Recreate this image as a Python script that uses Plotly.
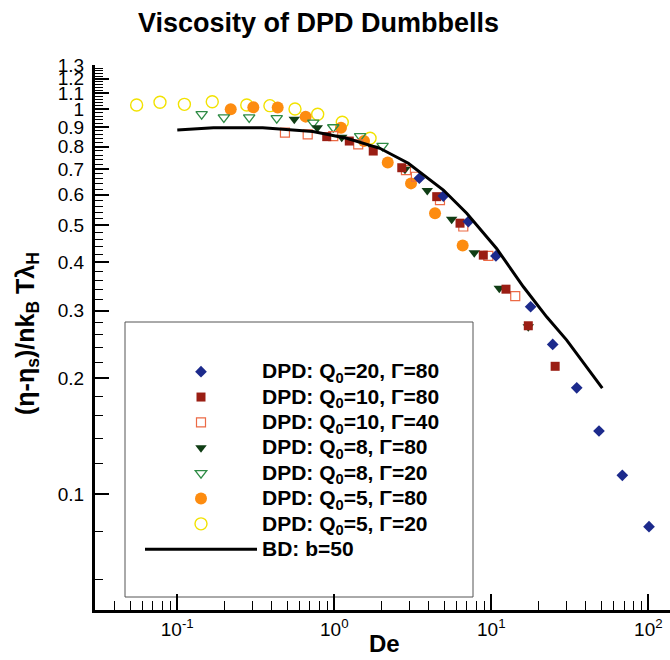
import plotly.graph_objects as go

# ---------------- data ----------------
q20_g80_x = [3.48, 4.95, 7.14, 10.7, 17.8, 24.6, 35.0, 48.5, 68.3, 101]
q20_g80_y = [0.662, 0.595, 0.511, 0.416, 0.307, 0.245, 0.189, 0.146, 0.112, 0.0824]

q10_g80_x = [0.895, 1.246, 1.77, 2.69, 4.49, 6.32, 8.89, 12.4, 17.2, 25.5]
q10_g80_y = [0.849, 0.827, 0.779, 0.705, 0.593, 0.506, 0.418, 0.341, 0.274, 0.215]

q10_g40_x = [0.485, 0.677, 0.985, 1.42, 2.86, 3.31, 4.71, 6.63, 9.57, 14.2]
q10_g40_y = [0.870, 0.861, 0.852, 0.811, 0.695, 0.668, 0.581, 0.496, 0.416, 0.327]

q8_g80_x = [0.556, 0.779, 1.115, 1.77, 2.82, 3.91, 5.59, 7.79, 11.24, 17.2]
q8_g80_y = [0.942, 0.896, 0.846, 0.792, 0.699, 0.615, 0.518, 0.424, 0.343, 0.2725]

q8_g20_x = [0.143, 0.198, 0.287, 0.430, 0.735, 0.985, 1.46, 2.03]
q8_g20_y = [0.971, 0.953, 0.953, 0.948, 0.923, 0.898, 0.852, 0.803]

q5_g80_x = [0.219, 0.305, 0.436, 0.657, 1.103, 1.546, 2.19, 3.08, 4.38, 6.57]
q5_g80_y = [1.0, 1.012, 1.010, 0.957, 0.896, 0.827, 0.727, 0.642, 0.537, 0.443]

q5_g20_x = [0.0551, 0.0776, 0.111, 0.167, 0.277, 0.389, 0.562, 0.784, 1.124, 1.69]
q5_g20_y = [1.026, 1.043, 1.030, 1.046, 1.026, 1.022, 1.002, 0.971, 0.925, 0.841]

bd_x = [0.1, 0.17, 0.35, 0.73, 1.2, 1.95, 2.96, 4.95, 6.97, 10.8, 16.0, 22.5, 30.2, 50.9]
bd_y = [0.884, 0.896, 0.896, 0.875, 0.841, 0.792, 0.724, 0.617, 0.537, 0.435, 0.346, 0.289, 0.2515, 0.1886]

x_tickvals = [0.1, 1, 10, 100]
x_ticktext = ["10<sup>-1</sup>", "10<sup>0</sup>", "10<sup>1</sup>", "10<sup>2</sup>"]
x_minor = [m * 10.0 ** e for e in (-2, -1, 0, 1) for m in range(2, 10)]

y_tickvals = [0.1, 0.2, 0.3, 0.4, 0.5, 0.6, 0.7, 0.8, 0.9, 1.0, 1.1, 1.2, 1.3]
y_ticktext = ["0.1", "0.2", "0.3", "0.4", "0.5", "0.6", "0.7", "0.8", "0.9", "1", "1.1", "1.2", "1.3"]
y_minor = [round(0.06 + 0.02 * i, 2) for i in range(62)]
y_minor = [v for v in y_minor if v <= 1.3 and round(v * 10, 6) % 1 != 0]

legend_names = [
    "DPD: Q<sub>0</sub>=20, Γ=80",
    "DPD: Q<sub>0</sub>=10, Γ=80",
    "DPD: Q<sub>0</sub>=10, Γ=40",
    "DPD: Q<sub>0</sub>=8, Γ=80",
    "DPD: Q<sub>0</sub>=8, Γ=20",
    "DPD: Q<sub>0</sub>=5, Γ=80",
    "DPD: Q<sub>0</sub>=5, Γ=20",
    "BD: b=50",
]

FONT = "Liberation Sans, Arial, Helvetica, sans-serif"


def lg(s):
    return '<span style="font-size:21px"><b>' + s + '</b></span>'


fig = go.Figure()

series = [
    (q20_g80_x, q20_g80_y, dict(symbol="diamond", size=9, color="#1c2a8c", line=dict(width=0))),
    (q10_g80_x, q10_g80_y, dict(symbol="square", size=9, color="#9a1e14", line=dict(width=0))),
    (q10_g40_x, q10_g40_y, dict(symbol="square-open", size=9, color="#ec6a45", line=dict(width=1.2))),
    (q8_g80_x, q8_g80_y, dict(symbol="triangle-down", size=10, color="#0f3d14", line=dict(width=0))),
    (q8_g20_x, q8_g20_y, dict(symbol="triangle-down-open", size=10, color="#2e8b45", line=dict(width=1.3))),
    (q5_g80_x, q5_g80_y, dict(symbol="circle", size=12, color="#fd8c10", line=dict(width=0))),
    (q5_g20_x, q5_g20_y, dict(symbol="circle-open", size=12, color="#f2e200", line=dict(width=1.4))),
]

draw_order = [6, 5, 4, 2, 3, 1, 0]
for idx in draw_order:
    xs, ys, mk = series[idx]
    fig.add_trace(go.Scatter(x=xs, y=ys, mode="markers", name=lg(legend_names[idx]),
                             marker=mk, legendrank=idx + 1))

fig.add_trace(go.Scatter(x=bd_x, y=bd_y, mode="lines", name=lg(legend_names[7]),
                         line=dict(color="black", width=3), legendrank=8))

L, R, T, B = 95, 0, 65, 50
W, H = 670, 660
pw, ph = W - L - R, H - T - B


def px(xp):
    return (xp - L) / pw


def py(yp):
    return (H - B - yp) / ph


fig.update_layout(
    width=W, height=H,
    margin=dict(l=L, r=R, t=T, b=B, autoexpand=False),
    paper_bgcolor="white", plot_bgcolor="white",
    font=dict(family=FONT, color="black"),
    showlegend=True,
    legend=dict(x=px(140), y=py(354), xanchor="left", yanchor="top",
                bgcolor="rgba(0,0,0,0)", borderwidth=0,
                font=dict(family=FONT, size=17.2, color="black"),
                itemwidth=112, tracegroupgap=0),
    xaxis=dict(type="log", range=[-1.524, 2.138], showgrid=False, zeroline=False,
               showline=True, linecolor="black", linewidth=3,
               tickmode="array", tickvals=x_tickvals, ticktext=x_ticktext,
               ticks="inside", ticklen=16, tickwidth=2, tickcolor="black",
               tickfont=dict(family=FONT, size=19, color="black"),
               minor=dict(tickmode="array", tickvals=x_minor, ticks="inside",
                          ticklen=9, tickwidth=1, tickcolor="black", showgrid=False)),
    yaxis=dict(type="log", range=[-1.3005, 0.115], showgrid=False, zeroline=False,
               showline=True, linecolor="black", linewidth=3,
               tickmode="array", tickvals=y_tickvals, ticktext=y_ticktext,
               ticks="inside", ticklen=14, tickwidth=2, tickcolor="black",
               tickfont=dict(family=FONT, size=19, color="black"),
               ticklabelstandoff=4,
               minor=dict(tickmode="array", tickvals=y_minor, ticks="inside",
                          ticklen=8, tickwidth=1, tickcolor="black", showgrid=False)),
    shapes=[dict(type="rect", xref="paper", yref="paper",
                 x0=px(125), x1=px(473), y0=py(597), y1=py(322),
                 line=dict(color="#555555", width=1), fillcolor="rgba(0,0,0,0)",
                 layer="below")],
    annotations=[
        dict(text="<b>Viscosity of DPD Dumbbells</b>", xref="paper", yref="paper",
             x=px(318), y=py(23), xanchor="center", yanchor="middle", showarrow=False,
             font=dict(family=FONT, size=27, color="black")),
        dict(text="<b>De</b>", xref="paper", yref="paper",
             x=px(384), y=py(643), xanchor="center", yanchor="middle", showarrow=False,
             font=dict(family=FONT, size=24, color="black")),
        dict(text="<b>(η-η<sub>s</sub>)/nk<sub>B</sub> Tλ<sub>H</sub></b>",
             xref="paper", yref="paper", textangle=-90,
             x=px(27), y=py(334), xanchor="center", yanchor="middle", showarrow=False,
             font=dict(family=FONT, size=25, color="black")),
    ],
)

fig.write_html("out.html")
